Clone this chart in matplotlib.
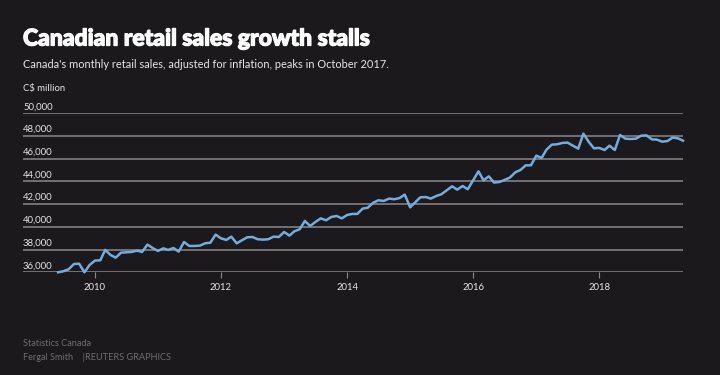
import pandas as pd
import matplotlib.pyplot as plt
import matplotlib.dates as mdates
import matplotlib.patheffects as pe


# 月度零售额（经通胀调整），2009年6月 - 2019年5月
start = "2009-06-01"
sales = [
    # 2009 Jun-Dec
    36000, 36090, 36260, 36730, 36760, 36000, 36650,
    # 2010
    37030, 37060, 37970, 37530, 37290, 37730, 37760, 37790, 37910, 37790, 38440, 38140,
    # 2011
    37880, 38110, 37970, 38140, 37820, 38670, 38320, 38320, 38350, 38550, 38610, 39320,
    # 2012
    38990, 38850, 39140, 38550, 38820, 39080, 39110, 38910, 38880, 38910, 39140, 39110,
    # 2013
    39550, 39230, 39610, 39790, 40520, 40080, 40430, 40750, 40580, 40870, 40960, 40750,
    # 2014
    41050, 41140, 41140, 41610, 41690, 42130, 42340, 42280, 42490, 42430, 42540, 42840,
    # 2015
    41720, 42190, 42600, 42630, 42490, 42720, 42870, 43220, 43570, 43280, 43600, 43310,
    # 2016
    44100, 44890, 44100, 44450, 43900, 43950, 44130, 44340, 44800, 45010, 45420, 45420,
    # 2017
    46270, 46070, 46800, 47240, 47270, 47390, 47420, 47150, 46890, 48210, 47480, 46920,
    # 2018
    46950, 46770, 47150, 46770, 48090, 47770, 47740, 47770, 48030, 48060, 47710, 47680,
    # 2019 Jan-May
    47500, 47560, 47860, 47800, 47590,
]
dates = pd.date_range(start, periods=len(sales), freq="MS")

y_ticks = [36000, 38000, 40000, 42000, 44000, 46000, 48000, 50000]
x_years = [2010, 2012, 2014, 2016, 2018]

title = "Canadian retail sales growth stalls"
subtitle = "Canada's monthly retail sales, adjusted for inflation, peaks in October 2017."
unit = "C$ million"
source = "Statistics Canada"
credit = "Fergal Smith    |REUTERS GRAPHICS"

bg = "#1b191c"
line_color = "#72ade0"
grid_color = "#8a8a8a"
text_color = "#e6e6e6"
foot_color = "#6e6e6e"

plt.rcParams['font.family'] = ['Lato', 'DejaVu Sans']

fig = plt.figure(figsize=(7.2, 3.75), dpi=100, facecolor=bg)
ax = fig.add_axes([23 / 720, 1 - 272.3 / 375, 660 / 720, 159 / 375])
ax.set_facecolor(bg)

ax.plot(dates, sales, color=line_color, lw=1.8, clip_on=False, zorder=3)

ax.set_ylim(36000, 50000)
ax.set_xlim(pd.Timestamp("2008-11-10"), pd.Timestamp("2019-05-01"))

# 网格线
for v in y_ticks:
    ax.axhline(v, color=grid_color, lw=1.1, zorder=1)
ax.set_yticks([])
for s in ax.spines.values():
    s.set_visible(False)

# y 轴标签在网格线上方
for v in y_ticks:
    ax.annotate(f"{v:,}", xy=(0, v), xycoords=("axes fraction", "data"),
                xytext=(0, 1.5), textcoords="offset points",
                ha="left", va="bottom", fontsize=6.8, color=text_color)

ax.set_xticks([pd.Timestamp(f"{y}-01-01") for y in x_years])
ax.xaxis.set_major_formatter(mdates.DateFormatter("%Y"))
ax.tick_params(axis="x", length=4, width=0.8, color=grid_color,
               labelcolor=text_color, labelsize=6.8, pad=4)

fig.text(23 / 720, 1 - 39 / 375, title, fontsize=16.5, fontweight="black",
         color="white", ha="left", va="center",
         path_effects=[pe.withStroke(linewidth=0.9, foreground="white")])
fig.text(23 / 720, 1 - 64 / 375, subtitle, fontsize=7.9,
         color=text_color, ha="left", va="center")
fig.text(23 / 720, 1 - 89 / 375, unit, fontsize=6.8,
         color=text_color, ha="left", va="center")
fig.text(23 / 720, 1 - 343 / 375, source, fontsize=6.6,
         color=foot_color, ha="left", va="center")
fig.text(23 / 720, 1 - 357 / 375, credit, fontsize=6.6,
         color=foot_color, ha="left", va="center")

fig.savefig("out.png", dpi=100, facecolor=bg)
